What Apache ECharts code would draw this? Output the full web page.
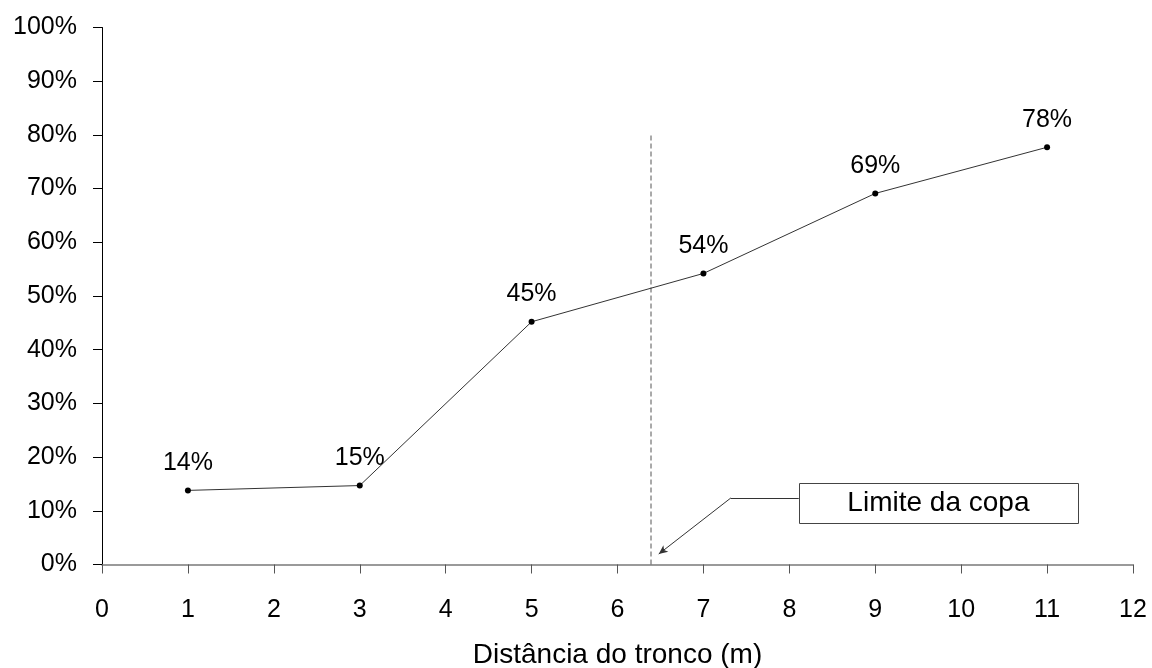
<!DOCTYPE html>
<html>
<head>
<meta charset="utf-8">
<script src="https://cdn.jsdelivr.net/npm/echarts@6/dist/echarts.min.js"></script>
<style>
html,body{margin:0;padding:0;background:#fff;}
#chart{width:1152px;height:668px;}
</style>
</head>
<body>
<div id="chart"></div>
<script>
// ---- data ----
const distances = [1, 3, 5, 7, 9, 11];
const shares = [13.8, 14.7, 45.2, 54.2, 69.1, 77.7];
const pointLabels = ['14%', '15%', '45%', '54%', '69%', '78%'];
const crownLimitX = 6.39;
const crownLimitTop = 80;
const annotationText = 'Limite da copa';
const annotationBox = [8.11, 15.2, 11.36, 7.7];      // x1, yTop, x2, yBottom (data units)
const annotationArrow = [[8.11, 12.4], [7.32, 12.4], [6.48, 1.95]];
const xTitle = 'Distância do tronco (m)';

const FONT = '"Liberation Sans", Arial, sans-serif';

const chart = echarts.init(document.getElementById('chart'), null, {renderer: 'canvas'});

const option = {
  backgroundColor: '#fff',
  animation: false,
  grid: {left: 102, right: 19, top: 27.5, bottom: 103.5, containLabel: false, outerBoundsMode: 'none'},
  xAxis: {
    type: 'value', min: 0, max: 12, interval: 1,
    name: xTitle, nameLocation: 'middle', nameGap: 77,
    nameTextStyle: {fontSize: 28, color: '#000', fontFamily: FONT},
    axisLine: {show: true, onZero: false, lineStyle: {color: '#7a7a7a', width: 1.5}},
    axisTick: {show: true, length: 9, lineStyle: {color: '#555', width: 1}},
    axisLabel: {fontSize: 25, color: '#000', margin: 33, fontFamily: FONT},
    splitLine: {show: false}
  },
  yAxis: {
    type: 'value', min: 0, max: 100, interval: 10,
    axisLine: {show: true, onZero: false, lineStyle: {color: '#000', width: 1}},
    axisTick: {show: true, length: 9, lineStyle: {color: '#000', width: 1}},
    axisLabel: {fontSize: 25, color: '#000', margin: 25, fontFamily: FONT, formatter: '{value}%'},
    splitLine: {show: false}
  },
  series: [
    {
      type: 'line',
      data: distances.map((d, i) => [d, shares[i]]),
      symbol: 'circle', symbolSize: 6,
      itemStyle: {color: '#000'},
      lineStyle: {color: '#333', width: 1},
      label: {
        show: true, position: 'top', distance: 12,
        fontSize: 25, color: '#000', fontFamily: FONT,
        formatter: p => pointLabels[p.dataIndex]
      },
      z: 5
    },
    {
      type: 'line',
      data: [[crownLimitX, 0], [crownLimitX, crownLimitTop]],
      symbol: 'none',
      lineStyle: {color: '#555', width: 1, type: [5, 3]},
      z: 3
    },
    {
      type: 'custom',
      data: [[annotationBox[0], annotationBox[1], annotationBox[2], annotationBox[3]]],
      renderItem: function (params, api) {
        const p1 = api.coord([api.value(0), api.value(1)]);
        const p2 = api.coord([api.value(2), api.value(3)]);
        return {
          type: 'group',
          children: [
            {
              type: 'rect',
              shape: {x: Math.round(p1[0]) + 0.5, y: Math.round(p1[1]) + 0.5, width: Math.round(p2[0] - p1[0]), height: Math.round(p2[1] - p1[1])},
              style: {fill: '#fff', stroke: '#444', lineWidth: 1}
            },
            {
              type: 'text',
              style: {
                text: annotationText, x: (p1[0] + p2[0]) / 2, y: (p1[1] + p2[1]) / 2,
                align: 'center', verticalAlign: 'middle',
                fontSize: 28, fill: '#000', fontFamily: FONT
              }
            }
          ]
        };
      },
      markLine: {
        silent: true,
        animation: false,
        label: {show: false},
        lineStyle: {color: '#333', width: 1, type: 'solid'},
        symbol: ['none', 'none'],
        data: [
          [{coord: annotationArrow[0], symbol: 'none'}, {coord: annotationArrow[1], symbol: 'none'}],
          [{coord: annotationArrow[1], symbol: 'none'}, {coord: annotationArrow[2], symbol: 'arrow', symbolSize: [6, 9]}]
        ]
      },
      z: 4
    }
  ]
};
chart.setOption(option);
</script>
</body>
</html>
